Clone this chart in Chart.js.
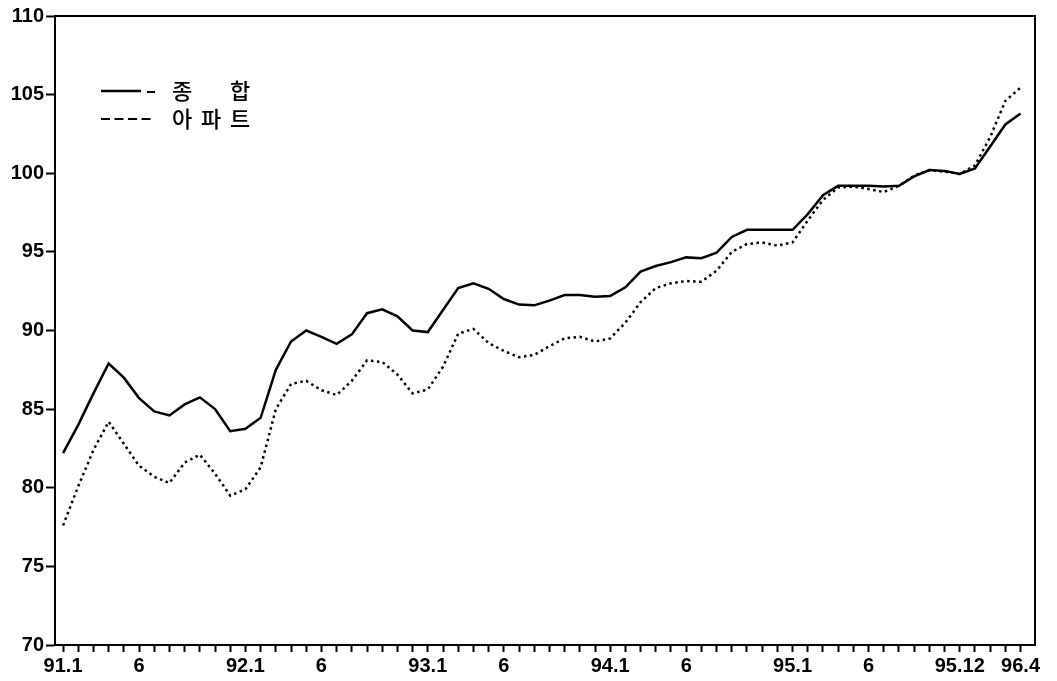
<!DOCTYPE html>
<html>
<head>
<meta charset="utf-8">
<script src="https://cdn.jsdelivr.net/npm/chart.js@4.4.1/dist/chart.umd.min.js"></script>
<style>
html,body{margin:0;padding:0;background:#fff;}
#wrap{width:1057px;height:681px;}
</style>
</head>
<body>
<div id="wrap"><canvas id="c" width="1057" height="681"></canvas></div>
<script>
// Months 91.1 .. 96.4
const months = [];
for (let y = 91; y <= 96; y++) {
  for (let m = 1; m <= 12; m++) {
    if (y === 96 && m > 4) break;
    months.push(y + '.' + m);
  }
}
// Tick labels (index -> label)
const tickIndex  = [0, 5, 12, 17, 24, 29, 36, 41, 48, 53, 59, 63];
const tickLabels = ['91.1','6','92.1','6','93.1','6','94.1','6','95.1','6','95.12','96.4'];

// 종합 (composite)
const composite = [
  82.2, 84.0, 86.0, 87.9, 87.0, 85.7, 84.85, 84.6, 85.3, 85.75, 85.0, 83.6,
  83.75, 84.45, 87.5, 89.3, 90.0, 89.6, 89.15, 89.75, 91.1, 91.35, 90.9, 90.0,
  89.9, 91.3, 92.7, 93.0, 92.65, 92.0, 91.65, 91.6, 91.9, 92.25, 92.25, 92.15,
  92.2, 92.75, 93.75, 94.1, 94.35, 94.65, 94.6, 94.95, 95.95, 96.4, 96.4, 96.4,
  96.4, 97.4, 98.6, 99.2, 99.2, 99.2, 99.15, 99.2, 99.8, 100.2, 100.15, 99.95,
  100.3, 101.7, 103.1, 103.8
];
// 아파트 (apartment)
const apartment = [
  77.6, 80.1, 82.4, 84.2, 82.8, 81.4, 80.7, 80.3, 81.6, 82.1, 80.9, 79.5,
  79.9, 81.3, 85.0, 86.6, 86.8, 86.2, 85.9, 86.8, 88.1, 88.0, 87.2, 86.0,
  86.25, 87.7, 89.8, 90.1, 89.2, 88.7, 88.3, 88.45, 89.0, 89.5, 89.6, 89.3,
  89.5, 90.5, 91.8, 92.7, 93.0, 93.15, 93.1, 93.8, 95.0, 95.5, 95.6, 95.4,
  95.6, 97.0, 98.3, 99.1, 99.15, 99.0, 98.8, 99.2, 99.85, 100.2, 100.1, 99.95,
  100.5, 102.3, 104.6, 105.45
];
const yTicks = [70, 75, 80, 85, 90, 95, 100, 105, 110];

const labelMap = {};
tickIndex.forEach((v, i) => { labelMap[v] = tickLabels[i]; });

const FONT = "'Liberation Sans', Arial, Helvetica, sans-serif";
const KFONT = "'Noto Sans CJK KR', 'Noto Sans', sans-serif";

const frame = {
  id: 'frame',
  afterDraw(chart) {
    const {ctx, chartArea: a} = chart;
    ctx.save();
    ctx.strokeStyle = '#000';
    ctx.lineWidth = 2;
    ctx.setLineDash([]);
    ctx.strokeRect(a.left, a.top, a.right - a.left, a.bottom - a.top);

    // legend
    ctx.lineWidth = 2.5;
    ctx.beginPath(); ctx.moveTo(101, 91); ctx.lineTo(141, 91); ctx.stroke();
    ctx.lineWidth = 2;
    ctx.beginPath(); ctx.moveTo(147, 92); ctx.lineTo(155, 92); ctx.stroke();
    ctx.setLineDash([9, 4.5]);
    ctx.beginPath(); ctx.moveTo(101, 119); ctx.lineTo(155, 119); ctx.stroke();
    ctx.setLineDash([]);
    ctx.fillStyle = '#000';
    ctx.font = '500 22px ' + KFONT;
    ctx.textBaseline = 'middle';
    ctx.textAlign = 'left';
    ctx.fillText('종', 172, 91);
    ctx.fillText('합', 230, 91);
    ctx.fillText('아', 172, 119);
    ctx.fillText('파', 201, 119);
    ctx.fillText('트', 230, 119);
    ctx.restore();
  }
};

new Chart(document.getElementById('c'), {
  type: 'line',
  data: {
    datasets: [
      {
        label: '종 합',
        data: composite.map((v, i) => ({x: i, y: v})),
        borderColor: '#000',
        borderWidth: 2.5,
        pointRadius: 0,
        tension: 0,
        fill: false
      },
      {
        label: '아파트',
        data: apartment.map((v, i) => ({x: i, y: v})),
        borderColor: '#000',
        borderWidth: 2.5,
        borderDash: [2.5, 3.5],
        pointRadius: 0,
        tension: 0,
        fill: false
      }
    ]
  },
  options: {
    responsive: false,
    animation: false,
    devicePixelRatio: 1,
    layout: {padding: {top: 16, right: 22, left: 0, bottom: 0}},
    plugins: {legend: {display: false}, tooltip: {enabled: false}},
    scales: {
      x: {
        type: 'linear',
        min: -0.53,
        max: 63.95,
        afterBuildTicks(scale) {
          scale.ticks = months.map((m, i) => ({value: i}));
        },
        afterFit(scale) { scale.height = 36; },
        ticks: {
          autoSkip: false,
          maxRotation: 0,
          minRotation: 0,
          padding: 2,
          color: '#000',
          font: {family: FONT, size: 20, weight: 'bold'},
          callback: (v) => (labelMap[v] !== undefined ? labelMap[v] : '')
        },
        grid: {
          drawOnChartArea: false,
          drawTicks: true,
          tickLength: 7,
          tickWidth: 2,
          color: '#000'
        },
        border: {display: true, color: '#000', width: 2}
      },
      y: {
        min: 70,
        max: 110,
        afterBuildTicks(scale) {
          scale.ticks = yTicks.map(v => ({value: v}));
        },
        afterFit(scale) { scale.width = 55; },
        ticks: {
          padding: 2,
          color: '#000',
          font: {family: FONT, size: 20, weight: 'bold'},
          callback: (v) => String(v)
        },
        grid: {
          drawOnChartArea: false,
          drawTicks: true,
          tickLength: 9,
          tickWidth: 2,
          color: '#000'
        },
        border: {display: true, color: '#000', width: 2}
      }
    }
  },
  plugins: [frame]
});
</script>
</body>
</html>
